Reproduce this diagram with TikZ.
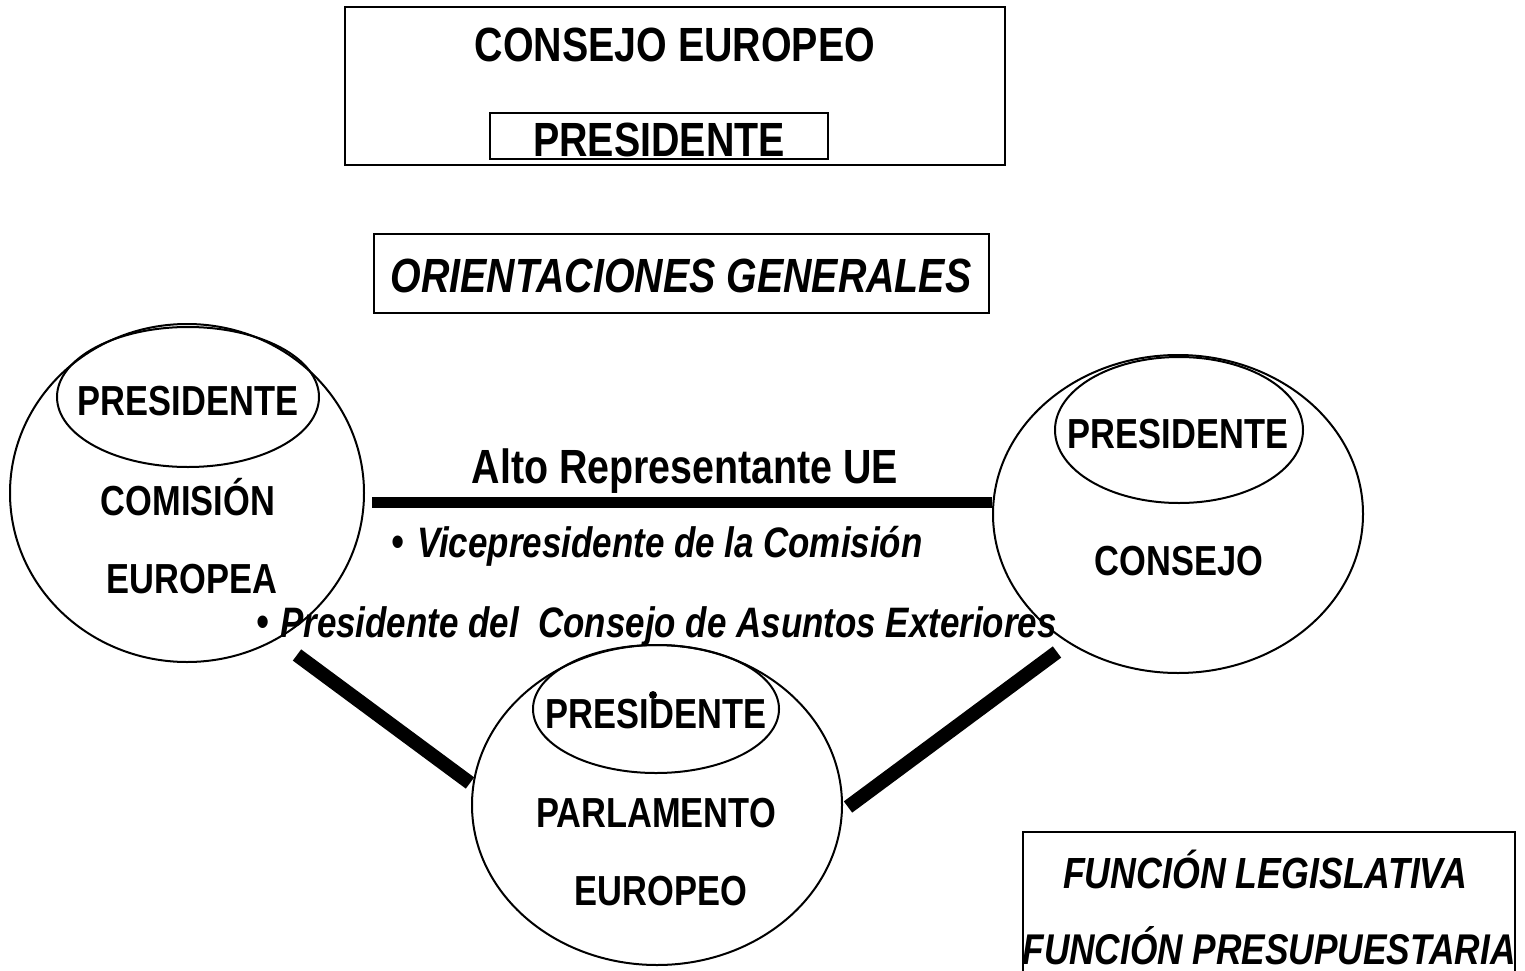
\documentclass[tikz,border=0pt]{standalone}
\usepackage{fontspec}
\setmainfont{Liberation Sans}[FakeStretch=0.82]
\usetikzlibrary{shapes.geometric}
\begin{document}
\begin{tikzpicture}[x=1pt,y=-1pt,
  frame/.style={draw=black,line width=2.2pt},
  oval/.style={draw=black,line width=2pt,ellipse,inner sep=0pt},
  lbl/.style={inner sep=0pt,anchor=base,font=\fontsize{42}{42}\selectfont\bfseries},
  biglbl/.style={inner sep=0pt,anchor=base,font=\fontsize{48}{48}\selectfont\bfseries},
  itlbl/.style={inner sep=0pt,anchor=base,font=\fontsize{42.6}{42.6}\selectfont\bfseries\itshape},
  bullet/.style={inner sep=0pt,anchor=base east,font=\fontsize{46}{46}\selectfont},
  thickbar/.style={line width=11pt},
  diagbar/.style={line width=14pt}]
\useasboundingbox (0,0) rectangle (1525,971);

% Consejo Europeo box
\node[frame,rectangle,minimum width=660pt,minimum height=158pt,inner sep=0pt] (ce) at (675,86) {};
\node[frame,rectangle,minimum width=338pt,minimum height=46pt,inner sep=0pt] (cepres) at (659,136) {};
\node[biglbl] (cetxt) at (675,62) {CONSEJO EUROPEO};
\node[biglbl] (cepretxt) at (659,157) {PRESIDENTE};

% Orientaciones generales
\node[frame,rectangle,minimum width=615pt,minimum height=79pt,inner sep=0pt] (orient) at (681.5,273.5) {};
\node[biglbl,font=\fontsize{48}{48}\selectfont\bfseries\itshape] (orienttxt) at (681,292) {ORIENTACIONES GENERALES};

% Comision
\node[oval,minimum width=354pt,minimum height=338pt] (comm) at (187,493) {};
\node[oval,minimum width=262pt,minimum height=140pt] (commpres) at (188,397) {};
\node[lbl] (commpt) at (188,415) {PRESIDENTE};
\node[lbl] (commt1) at (188,515) {COMISIÓN};
\node[lbl] (commt2) at (192,593) {EUROPEA};

% Consejo
\node[oval,minimum width=370pt,minimum height=318pt] (cons) at (1178,514) {};
\node[oval,minimum width=248pt,minimum height=146pt] (conspres) at (1179,430) {};
\node[lbl] (conspt) at (1178,448) {PRESIDENTE};
\node[lbl] (const) at (1179,575) {CONSEJO};

% Parlamento
\node[oval,minimum width=370pt,minimum height=320pt] (parl) at (657,805) {};
\node[oval,minimum width=246pt,minimum height=128pt] (parlpres) at (656,709) {};
\node[lbl] (parlpt) at (656,728) {PRESIDENTE};
\node[lbl] (parlt1) at (656,827) {PARLAMENTO};
\node[lbl] (parlt2) at (661,905) {EUROPEO};
\fill (653,695) circle (4pt);

% connectors
\coordinate (h1) at (372,502);
\coordinate (h2) at (cons.west |- h1);
\draw[thickbar] (h1) -- (h2);
\coordinate (d1) at (297,655);
\coordinate (d2) at (470,783);
\draw[diagbar] (d1) -- (d2);
\coordinate (d3) at (1057,652);
\coordinate (d4) at (848,807);
\draw[diagbar] (d3) -- (d4);

% Alto representante
\node[biglbl] (alto) at (685,483) {Alto Representante UE};
\node[itlbl,anchor=base west] (vice) at (417,557) {Vicepresidente de la Comisión};
\node[bullet] (b1) at ([xshift=-12pt]vice.base west) {•};
\node[itlbl,anchor=base west] (pcae) at (280,637) {Presidente del\ \ Consejo de Asuntos Exteriores};
\node[bullet] (b2) at ([xshift=-10pt]pcae.base west) {•};

% Funciones
\coordinate (f1) at (1023,975);
\coordinate (f2) at (1023,832);
\coordinate (f3) at (1515,832);
\coordinate (f4) at (1515,975);
\draw[frame] (f1) -- (f2) -- (f3) -- (f4);
\node[itlbl,font=\fontsize{43.6}{43.6}\selectfont\bfseries\itshape] (fl) at (1265,888) {FUNCIÓN LEGISLATIVA};
\node[itlbl,font=\fontsize{43}{43}\selectfont\bfseries\itshape] (fp) at (1269,964) {FUNCIÓN PRESUPUESTARIA};
\end{tikzpicture}
\end{document}
